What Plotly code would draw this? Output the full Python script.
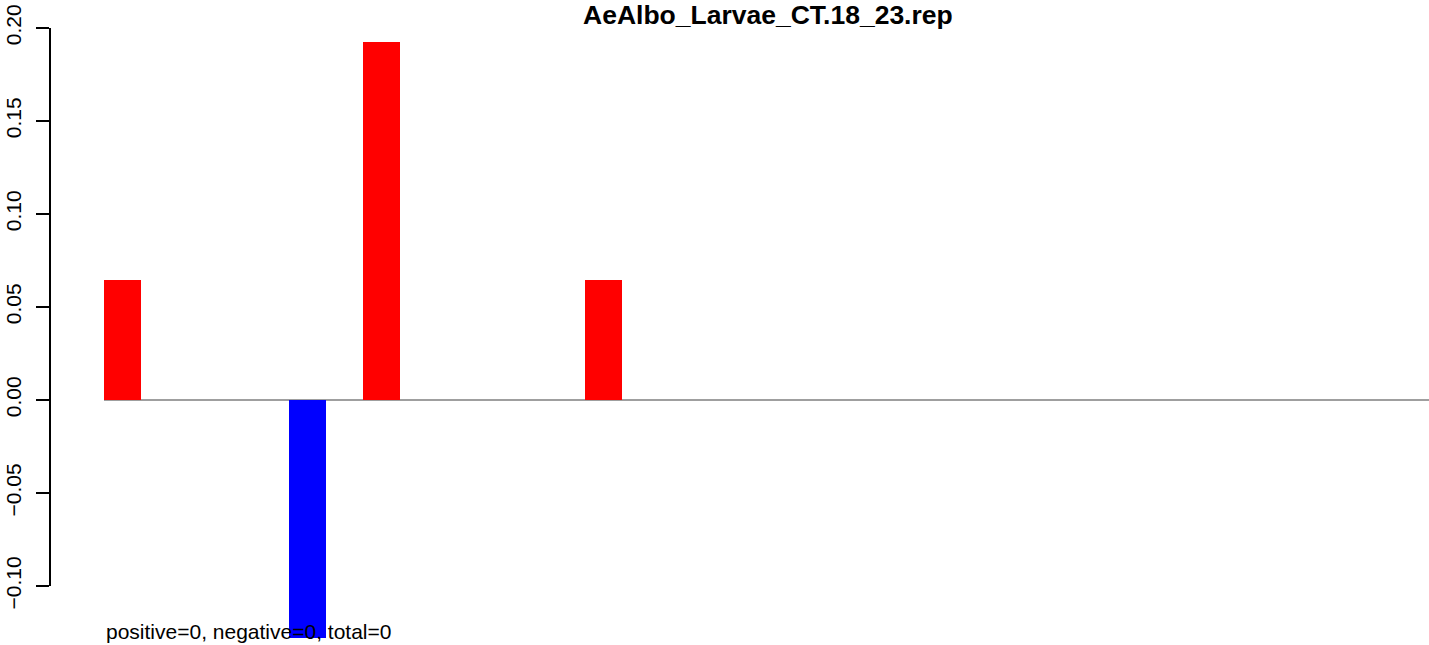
import plotly.graph_objects as go

# ---- data ----
title_text = "AeAlbo_Larvae_CT.18_23.rep"
n_bins = 36
bar_index = [0, 5, 7, 13]
bar_values = [0.0645, -0.128, 0.1925, 0.0645]
tick_vals = [-0.10, -0.05, 0.00, 0.05, 0.10, 0.15, 0.20]
tick_text = ["\u22120.10", "\u22120.05", "0.00", "0.05", "0.10", "0.15", "0.20"]
footer_text = "positive=0, negative=0, total=0"

values = [0.0] * n_bins
for i, v in zip(bar_index, bar_values):
    values[i] = v
centers = [i + 0.5 for i in range(n_bins)]
colors = ["red" if v >= 0 else "blue" for v in values]

W, H = 1429, 645
left_px, right_px = 50, W
x0_px, unit_px = 104, 37.0
zero_px, per_unit = 400, 1860.0

x_range = [(left_px - x0_px) / unit_px, (right_px - x0_px) / unit_px]
y_range = [-(H - zero_px) / per_unit, zero_px / per_unit]

FONT = "Liberation Sans, Arial, Helvetica, sans-serif"

fig = go.Figure()
fig.add_trace(go.Bar(
    x=centers, y=values, width=1.0,
    marker=dict(color=colors, line=dict(width=0)),
    hoverinfo="skip", showlegend=False,
))

# zero line
fig.add_shape(type="line", xref="x", yref="y", x0=0, x1=n_bins + 5, y0=0, y1=0,
              line=dict(color="#7f7f7f", width=1.5), layer="below")
# R-style y axis line spanning ticks
fig.add_shape(type="line", xref="paper", yref="y", x0=0, x1=0,
              y0=tick_vals[0], y1=tick_vals[-1],
              line=dict(color="black", width=2))

fig.add_annotation(text=footer_text, xref="x", yref="paper", x=0, y=(H - 645) / H,
                   xanchor="left", yanchor="bottom", showarrow=False,
                   font=dict(family=FONT, size=21, color="black"))
fig.add_annotation(text="<b>" + title_text + "</b>", xref="paper", yref="paper",
                   x=(768 - left_px) / (right_px - left_px), y=1.0,
                   xanchor="center", yanchor="top", yshift=2, showarrow=False,
                   font=dict(family=FONT, size=26.5, color="black"))

fig.update_layout(
    width=W, height=H,
    margin=dict(l=left_px, r=W - right_px, t=0, b=0, pad=0, autoexpand=False),
    plot_bgcolor="white", paper_bgcolor="white",
    font=dict(family=FONT, size=21, color="black"),
    bargap=0,
    xaxis=dict(range=x_range, visible=False, fixedrange=True, automargin=False),
    yaxis=dict(range=y_range, tickvals=tick_vals, ticktext=tick_text,
               tickangle=-90, ticks="outside", ticklen=13, tickwidth=2,
               tickcolor="black", showgrid=False, zeroline=False,
               showline=False, fixedrange=True, automargin=False,
               ticklabelstandoff=7,
               tickfont=dict(family=FONT, size=21, color="black")),
)

fig.write_html(
    "out.html",
    config={"displayModeBar": False},
    post_script="document.body.style.margin='0px';document.body.style.overflow='hidden';",
)
